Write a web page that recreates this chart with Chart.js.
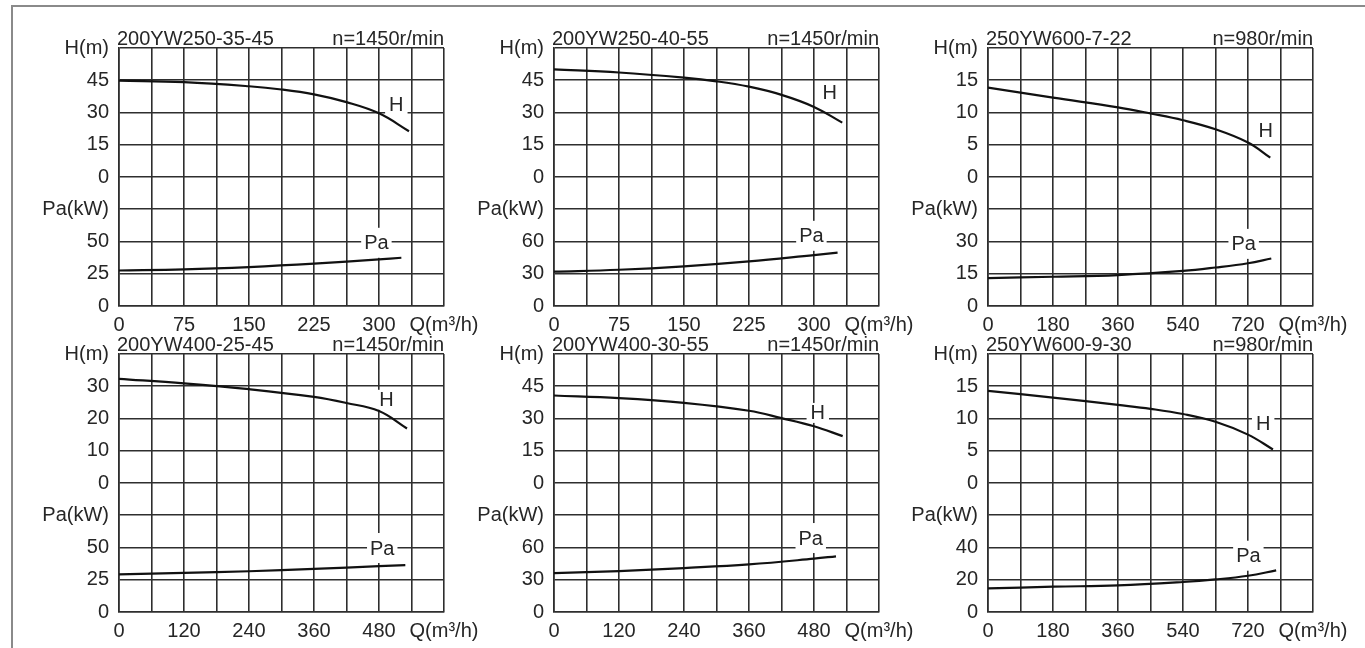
<!DOCTYPE html>
<html>
<head>
<meta charset="utf-8">
<script src="https://cdn.jsdelivr.net/npm/chart.js@4.4.1/dist/chart.umd.min.js"></script>
<style>
  html, body { margin: 0; padding: 0; background: #fff; }
  body { width: 1365px; height: 648px; overflow: hidden; position: relative; }
  #frame { position: absolute; left: 11px; top: 5px; width: 1400px; height: 700px;
           border-left: 2px solid #8a8a8a; border-top: 2px solid #8a8a8a; }
  .panel { position: absolute; }
</style>
</head>
<body>
<div id="frame"></div>

<script>
// ---------------- DATA ----------------
const models = ['200YW250-35-45', '200YW250-40-55', '250YW600-7-22', '200YW400-25-45', '200YW400-30-55', '250YW600-9-30'];
const speeds = ['n=1450r/min', 'n=1450r/min', 'n=980r/min', 'n=1450r/min', 'n=1450r/min', 'n=980r/min'];
const seriesNames = ['H', 'Pa'];

// scale steps per grid cell: Q (m3/h), H (m), Pa (kW)
const qSteps = [37.5, 37.5, 90, 60, 60, 90];
const hSteps = [15, 15, 5, 10, 15, 5];
const paSteps = [25, 30, 15, 25, 30, 20];

// tick labels
const xLabels1 = ['0', '75', '150', '225', '300', 'Q(m³/h)'];
const xLabels2 = ['0', '75', '150', '225', '300', 'Q(m³/h)'];
const xLabels3 = ['0', '180', '360', '540', '720', 'Q(m³/h)'];
const xLabels4 = ['0', '120', '240', '360', '480', 'Q(m³/h)'];
const xLabels5 = ['0', '120', '240', '360', '480', 'Q(m³/h)'];
const xLabels6 = ['0', '180', '360', '540', '720', 'Q(m³/h)'];
const yLabels1 = ['0', '25', '50', 'Pa(kW)', '0', '15', '30', '45', 'H(m)'];
const yLabels2 = ['0', '30', '60', 'Pa(kW)', '0', '15', '30', '45', 'H(m)'];
const yLabels3 = ['0', '15', '30', 'Pa(kW)', '0', '5', '10', '15', 'H(m)'];
const yLabels4 = ['0', '25', '50', 'Pa(kW)', '0', '10', '20', '30', 'H(m)'];
const yLabels5 = ['0', '30', '60', 'Pa(kW)', '0', '15', '30', '45', 'H(m)'];
const yLabels6 = ['0', '20', '40', 'Pa(kW)', '0', '5', '10', '15', 'H(m)'];

// curves
const p1HQ = [0, 75, 150, 187.5, 225, 262.5, 300, 334.6];
const p1H  = [44.8, 44.1, 42.2, 40.7, 38.4, 34.8, 29.6, 21.3];
const p1PaQ = [0, 75, 150, 225, 300, 325.8];
const p1Pa  = [27.5, 28.4, 30.2, 32.8, 36.1, 37.4];

const p2HQ = [0, 75, 150, 187.5, 225, 262.5, 300, 332.6];
const p2H  = [50.1, 48.6, 46.2, 44.5, 42.0, 38.2, 32.6, 25.3];
const p2PaQ = [0, 75, 150, 225, 300, 327.2];
const p2Pa  = [31.9, 33.7, 36.9, 41.5, 47.4, 49.6];

const p3HQ = [0, 180, 360, 450, 540, 630, 720, 781.7];
const p3H  = [13.86, 12.3, 10.8, 9.85, 8.8, 7.4, 5.35, 3.0];
const p3PaQ = [0, 180, 360, 540, 630, 720, 784.5];
const p3Pa  = [13.0, 13.6, 14.4, 16.3, 17.9, 19.9, 22.1];

const p4HQ = [0, 120, 240, 360, 420, 480, 531.7];
const p4H  = [32.3, 30.9, 29.1, 26.7, 24.8, 22.3, 16.9];
const p4PaQ = [0, 120, 240, 360, 480, 528.6];
const p4Pa  = [29.1, 30.4, 31.6, 33.4, 35.5, 36.3];

const p5HQ = [0, 120, 240, 360, 420, 480, 532.9];
const p5H  = [40.7, 39.5, 37.3, 33.6, 30.2, 26.4, 21.8];
const p5PaQ = [0, 120, 240, 360, 480, 520.6];
const p5Pa  = [36.2, 38.1, 40.9, 44.3, 49.6, 51.8];

const p6HQ = [0, 180, 360, 450, 540, 630, 720, 789.1];
const p6H  = [14.28, 13.25, 12.1, 11.5, 10.7, 9.5, 7.5, 5.2];
const p6PaQ = [0, 180, 360, 540, 630, 720, 798];
const p6Pa  = [14.6, 15.7, 16.5, 18.6, 20.2, 22.5, 25.8];

// ---------------- LAYOUT / STYLE ----------------
const FONT_FAMILY = '"Liberation Sans", Arial, Helvetica, sans-serif';
const FONT_SIZE = 20;
const TEXT = '#262626';
const GRID = '#2e2e2e';
const CURVE = '#111111';
const PLOT_W = 325, PLOT_H = 258;
const AX_W = 115, TOP_PAD = 45, RIGHT_PAD = 55, AX_H = 40;

const panels = [
  { left: 119, top: 48, x: xLabels1, y: yLabels1, hq: p1HQ, h: p1H, pq: p1PaQ, pa: p1Pa, hLab: [320, 33.75], pLab: [297, 49] },
  { left: 554, top: 48, x: xLabels2, y: yLabels2, hq: p2HQ, h: p2H, pq: p2PaQ, pa: p2Pa, hLab: [318, 39.5], pLab: [297, 65.3] },
  { left: 988, top: 48, x: xLabels3, y: yLabels3, hq: p3HQ, h: p3H, pq: p3PaQ, pa: p3Pa, hLab: [769, 7.2], pLab: [708, 28.9] },
  { left: 119, top: 354, x: xLabels4, y: yLabels4, hq: p4HQ, h: p4H, pq: p4PaQ, pa: p4Pa, hLab: [493.6, 25.8], pLab: [486, 49.6] },
  { left: 554, top: 354, x: xLabels5, y: yLabels5, hq: p5HQ, h: p5H, pq: p5PaQ, pa: p5Pa, hLab: [487, 32.6], pLab: [474, 68.8] },
  { left: 988, top: 354, x: xLabels6, y: yLabels6, hq: p6HQ, h: p6H, pq: p6PaQ, pa: p6Pa, hLab: [762, 9.2], pLab: [721, 34.9] }
];

const decor = {
  id: 'decor',
  beforeDatasetsDraw(chart, args, o) {
    const ctx = chart.ctx;
    ctx.save();
    ctx.font = FONT_SIZE + 'px ' + FONT_FAMILY;
    ctx.textAlign = 'center';
    ctx.textBaseline = 'middle';
    for (const lab of o.labels) {
      const px = chart.scales.x.getPixelForValue(lab.q);
      const py = chart.scales[lab.axis].getPixelForValue(lab.v);
      const w = ctx.measureText(lab.text).width + lab.padX * 2;
      ctx.fillStyle = '#ffffff';
      ctx.fillRect(px - w / 2, py - lab.boxH / 2, w, lab.boxH);
      ctx.fillStyle = TEXT;
      ctx.fillText(lab.text, px, py + 1);
    }
    ctx.restore();
  },
  afterDraw(chart, args, o) {
    const ctx = chart.ctx, a = chart.chartArea;
    ctx.save();
    ctx.font = FONT_SIZE + 'px ' + FONT_FAMILY;
    ctx.fillStyle = TEXT;
    ctx.textBaseline = 'alphabetic';
    ctx.textAlign = 'left';
    ctx.fillText(o.model, a.left - 2, a.top - 3);
    ctx.textAlign = 'right';
    ctx.fillText(o.speed, a.right, a.top - 3);
    ctx.restore();
  }
};

panels.forEach((p, i) => {
  const W = AX_W + PLOT_W + RIGHT_PAD, H = TOP_PAD + PLOT_H + AX_H;
  const div = document.createElement('div');
  div.className = 'panel';
  div.style.left = (p.left - AX_W) + 'px';
  div.style.top = (p.top - TOP_PAD) + 'px';
  div.style.width = W + 'px';
  div.style.height = H + 'px';
  const cv = document.createElement('canvas');
  cv.width = W; cv.height = H;
  cv.style.width = W + 'px'; cv.style.height = H + 'px';
  div.appendChild(cv);
  document.body.appendChild(div);

  const qs = qSteps[i], hs = hSteps[i], ps = paSteps[i];
  const gridOpts = { color: GRID, lineWidth: 1.6, drawTicks: false };
  const borderOpts = { display: true, color: GRID, width: 1.6 };
  const font = { family: FONT_FAMILY, size: FONT_SIZE };

  new Chart(cv, {
    type: 'line',
    data: {
      datasets: [
        { label: seriesNames[0], yAxisID: 'yH',
          data: p.hq.map((q, k) => ({ x: q, y: p.h[k] })) },
        { label: seriesNames[1], yAxisID: 'y',
          data: p.pq.map((q, k) => ({ x: q, y: p.pa[k] })) }
      ]
    },
    options: {
      responsive: false,
      animation: false,
      devicePixelRatio: 1,
      layout: { padding: { left: 0, top: TOP_PAD, right: RIGHT_PAD, bottom: 0 } },
      elements: {
        point: { radius: 0, hoverRadius: 0 },
        line: { borderColor: CURVE, borderWidth: 2.2, tension: 0.4, cubicInterpolationMode: 'default', fill: false }
      },
      plugins: {
        legend: { display: false },
        tooltip: { enabled: false },
        title: { display: false },
        decor: {
          model: models[i], speed: speeds[i],
          labels: [
            { text: seriesNames[0], axis: 'yH', q: p.hLab[0], v: p.hLab[1], padX: 4, boxH: 20 },
            { text: seriesNames[1], axis: 'y', q: p.pLab[0], v: p.pLab[1], padX: 3, boxH: 30 }
          ]
        }
      },
      scales: {
        x: {
          type: 'linear', min: 0, max: qs * 10,
          grid: gridOpts, border: borderOpts,
          ticks: {
            stepSize: qs, autoSkip: false, maxRotation: 0, minRotation: 0,
            color: TEXT, font: font, padding: 7,
            callback: (v, idx) => (idx % 2 === 0 ? p.x[idx / 2] : '')
          },
          afterFit: (s) => { s.height = AX_H; }
        },
        y: {
          type: 'linear', position: 'left', min: 0, max: ps * 8,
          grid: gridOpts, border: borderOpts,
          ticks: {
            stepSize: ps, autoSkip: false, color: TEXT, font: font, padding: 10,
            callback: (v, idx) => p.y[idx]
          },
          afterFit: (s) => { s.width = AX_W; }
        },
        yH: {
          type: 'linear', display: false, min: -hs * 4, max: hs * 4
        }
      }
    },
    plugins: [decor]
  });
});
</script>
</body>
</html>
